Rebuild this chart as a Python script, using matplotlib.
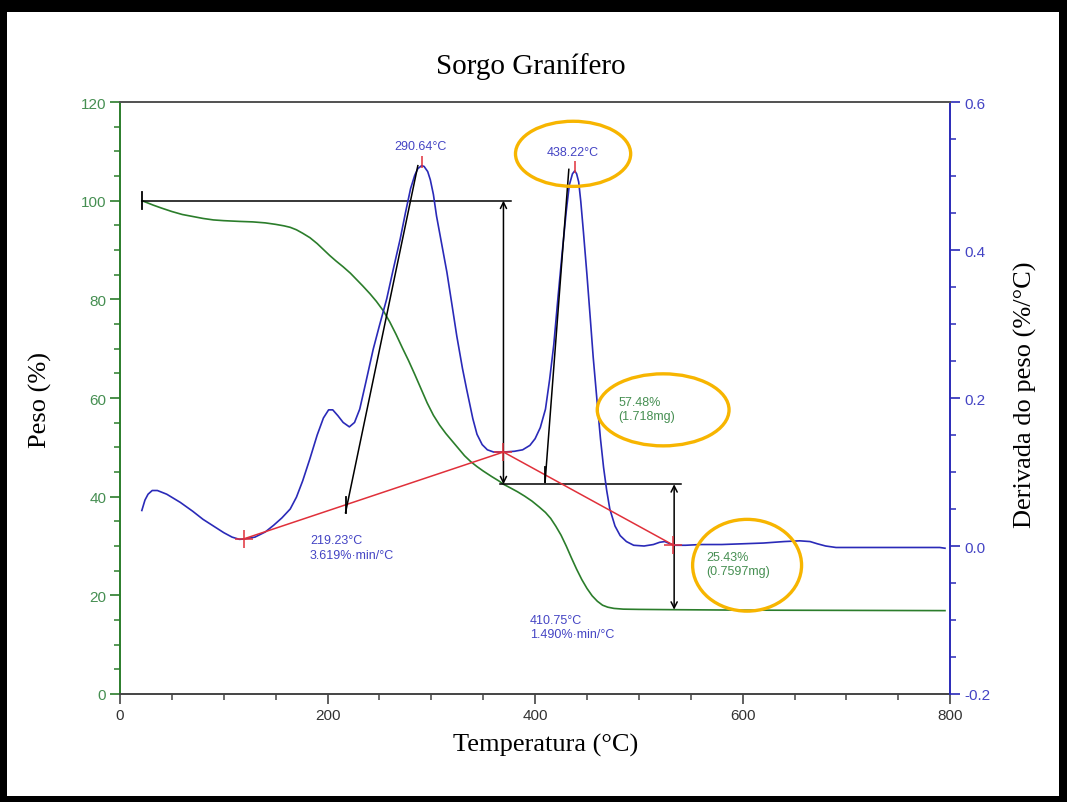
import numpy as np
import matplotlib
matplotlib.use("Agg")
import matplotlib.pyplot as plt
from matplotlib.patches import Ellipse, Rectangle
from matplotlib.ticker import MultipleLocator, FormatStrFormatter

# ---- TGA data: sorghum grain, weight (%) vs temperature (°C) ----
temp_tg = [21, 26, 32, 40, 50, 60, 70, 80, 90, 100, 115, 128, 140, 150, 158, 164,
           170, 176, 183, 190, 196, 202, 208, 215, 222, 228, 234, 241, 247, 254,
           260, 266, 272, 278, 284, 290, 296, 302, 308, 314, 320, 326, 332, 338,
           344, 350, 358, 365, 369.5, 376, 383, 390, 397, 404, 410, 415, 420, 425,
           430, 435, 440, 445, 450, 455, 460, 465, 470, 476, 485, 500, 534, 600,
           700, 795]
peso = [100.0, 99.6, 99.1, 98.5, 97.8, 97.2, 96.8, 96.4, 96.1, 95.95, 95.8, 95.7,
        95.5, 95.2, 94.9, 94.6, 94.1, 93.4, 92.5, 91.3, 90.1, 88.9, 87.8, 86.6,
        85.3, 84.0, 82.7, 81.1, 79.6, 77.6, 75.4, 72.9, 70.2, 67.6, 64.8, 61.9,
        59.0, 56.5, 54.5, 52.8, 51.3, 49.8, 48.3, 47.1, 46.1, 45.2, 44.1, 43.2,
        42.52, 41.8, 41.0, 40.1, 39.1, 37.9, 36.8, 35.6, 34.0, 32.2, 30.0, 27.6,
        25.3, 23.2, 21.4, 19.9, 18.8, 18.0, 17.6, 17.35, 17.2, 17.15, 17.09, 17.0,
        16.95, 16.9]

# ---- DTG data: derivative of weight (%/°C) ----
temp_dtg = [21, 24, 27, 31, 36, 45, 58, 70, 80, 90, 100, 108, 115, 120, 130, 140,
            148, 156, 164, 170, 176, 183, 190, 196, 201, 205, 210, 215, 221, 226,
            231, 237, 244, 250, 257, 263, 270, 275, 280, 284, 287, 290.64, 293,
            296.5, 299, 302, 305, 310, 315, 320, 324.5, 330, 334, 340, 344, 349, 354,
            360, 369.5, 380, 388, 395, 400, 405, 410, 414, 418, 422, 426, 430, 433,
            436, 438.22, 440, 442, 444, 446.6, 450, 453, 456, 459.5, 463, 466, 469,
            472, 477, 482, 488, 495, 505, 514, 520, 525, 530, 535, 545, 560, 580,
            600, 620, 640, 655, 665, 672, 680, 690, 720, 760, 790, 795]
dtg = [0.048, 0.062, 0.070, 0.075, 0.075, 0.070, 0.059, 0.047, 0.036, 0.027,
       0.018, 0.012, 0.009, 0.0095, 0.012, 0.019, 0.028, 0.038, 0.050, 0.066,
       0.088, 0.118, 0.150, 0.173, 0.184, 0.184, 0.176, 0.167, 0.161, 0.167,
       0.185, 0.222, 0.266, 0.298, 0.334, 0.372, 0.415, 0.450, 0.483, 0.501,
       0.510, 0.514, 0.513, 0.506, 0.495, 0.475, 0.446, 0.408, 0.370, 0.325,
       0.284, 0.240, 0.212, 0.172, 0.151, 0.137, 0.130, 0.127, 0.127, 0.128,
       0.130, 0.136, 0.145, 0.160, 0.185, 0.225, 0.272, 0.335, 0.395, 0.452,
       0.488, 0.503, 0.507, 0.503, 0.492, 0.466, 0.424, 0.366, 0.311, 0.255,
       0.199, 0.145, 0.106, 0.075, 0.050, 0.027, 0.014, 0.006, 0.001, 0.000,
       0.002, 0.005, 0.006, 0.003, 0.001, 0.001, 0.002, 0.002, 0.003, 0.004,
       0.006, 0.007, 0.006, 0.003, 0.000, -0.002, -0.002, -0.002, -0.002, -0.003]

# ---- analysis results ----
peak_temps = [290.64, 438.22]
onset_temps = [219.23, 410.75]
onset_rates = ["3.619", "1.490"]
mass_losses = [57.48, 25.43]
mass_mg = ["1.718", "0.7597"]
step_temps = [369.5, 534.0]

# DTG baseline used for onset evaluation
base_T = [119.0, 369.5, 533.0]
base_D = [0.0095, 0.127, 0.0014]
# leading-edge tangents of each DTG peak
tan_T = [[217.3, 287.0], [409.6, 432.5]]
tan_D = [[0.045, 0.514], [0.086, 0.509]]

C_GREEN = "#2b7d2b"
C_BLUE = "#2a2ab8"
C_GREEN_TXT = "#468f52"
C_BLUE_TXT = "#4444c4"
C_RED = "#e0303a"
C_ORANGE = "#f7b500"

SANS = "Liberation Sans"
SERIF = "Liberation Serif"

fig = plt.figure(figsize=(10.67, 8.03), dpi=100)
fig.patch.set_facecolor("black")
fig.patches.append(Rectangle((7 / 1067, 6 / 803), (1059 - 7) / 1067, (790 - 6) / 803,
                             transform=fig.transFigure, facecolor="white",
                             edgecolor="none", zorder=-10))

ax = fig.add_axes([0.1125, 0.1345, 0.778, 0.7372])
ax2 = ax.twinx()
ax.set_facecolor("white")
ax2.patch.set_visible(False)

ax.set_xlim(0, 800)
ax.set_ylim(0, 120)
ax2.set_ylim(-0.2, 0.6)

# weight curve
ax.plot(temp_tg, peso, color=C_GREEN, lw=1.2, zorder=3)
# derivative curve
ax2.plot(temp_dtg, dtg, color=C_BLUE, lw=1.2, zorder=3)

# weight-loss steps
w0 = peso[0]
w1 = w0 - mass_losses[0]
w2 = w1 - mass_losses[1]
ax.plot([temp_tg[0], 377], [w0, w0], color="black", lw=1.1, zorder=4)
ax.plot([temp_tg[0], temp_tg[0]], [w0 - 1.7, w0 + 1.7], color="black", lw=1.3, zorder=4)
ax.plot([step_temps[0] - 3.5, step_temps[1] + 7], [w1, w1], color="black", lw=1.1, zorder=4)
arrow_kw = dict(arrowstyle="<->", color="black", lw=1.1, mutation_scale=11,
                shrinkA=0, shrinkB=0)
ax.annotate("", xy=(step_temps[0], w1), xytext=(step_temps[0], w0), arrowprops=arrow_kw, zorder=4)
ax.annotate("", xy=(step_temps[1], w2), xytext=(step_temps[1], w1), arrowprops=arrow_kw, zorder=4)

# baseline and tangents on the derivative axis
ax2.plot(base_T, base_D, color=C_RED, lw=1.1, zorder=4)
ax2.plot(base_T, base_D, ls="none", marker="+", ms=13, mew=1.1, color=C_RED, zorder=5)
for tt, dd in zip(tan_T, tan_D):
    ax2.plot(tt, dd, color="black", lw=1.1, zorder=4)
    ax2.plot([tt[0], tt[0]], [dd[0], dd[0] + 0.021], color="black", lw=1.3, zorder=4)

# peak markers and labels
for pt in peak_temps:
    i = temp_dtg.index(pt)
    ax2.plot([pt], [dtg[i] + 0.005], marker="|", ms=9, mew=1.1, color=C_RED, zorder=5)
    ax2.text(pt - 1.5, dtg[i] + 0.026, f"{pt:.2f}°C", color=C_BLUE_TXT, fontsize=9,
             family=SANS, ha="center", va="center", zorder=6)

# onset labels
onset_pos = [(183, -0.002), (395, -0.109)]
for (tx, ty), ot, rate in zip(onset_pos, onset_temps, onset_rates):
    ax2.text(tx, ty, f"{ot:.2f}°C\n{rate}%·min/°C", color=C_BLUE_TXT, fontsize=9,
             family=SANS, ha="left", va="center", linespacing=1.25, zorder=6)

# mass-loss labels
loss_pos = [(480, 57.8), (565, 26.4)]
for (tx, ty), ml, mg in zip(loss_pos, mass_losses, mass_mg):
    ax.text(tx, ty, f"{ml:.2f}%\n({mg}mg)", color=C_GREEN_TXT, fontsize=9,
            family=SANS, ha="left", va="center", linespacing=1.25, zorder=6)

# highlight rings
rings = [((436.6, 109.5), 111, 13.2), ((523.4, 57.6), 127, 14.6), ((604.3, 26.1), 105, 18.6)]
for (cx, cy), rw, rh in rings:
    ax2.add_patch(Ellipse((cx, cy), rw, rh, transform=ax.transData, fill=False,
                          edgecolor=C_ORANGE, lw=2.4, zorder=7, clip_on=False))

# axes styling
ax.spines["left"].set_color(C_GREEN)
ax.spines["bottom"].set_color("#444444")
ax.spines["top"].set_color("#555555")
ax2.spines["right"].set_color(C_BLUE)
ax2.spines["left"].set_visible(False)
ax2.spines["top"].set_color("#555555")
ax2.spines["bottom"].set_visible(False)
for s in ax.spines.values():
    s.set_linewidth(1.4)
ax2.spines["right"].set_linewidth(1.4)
ax2.spines["top"].set_linewidth(1.4)
ax.spines["right"].set_visible(False)

ax.xaxis.set_major_locator(MultipleLocator(200))
ax.xaxis.set_minor_locator(MultipleLocator(50))
ax.yaxis.set_major_locator(MultipleLocator(20))
ax.yaxis.set_minor_locator(MultipleLocator(5))
ax2.yaxis.set_major_locator(MultipleLocator(0.2))
ax2.yaxis.set_minor_locator(MultipleLocator(0.05))
ax2.yaxis.set_major_formatter(FormatStrFormatter("%.1f"))

ax.tick_params(axis="x", which="major", direction="out", length=7, width=1.2,
               color="#444444", labelcolor="#333333", labelsize=11, pad=3)
ax.tick_params(axis="x", which="minor", direction="out", length=4.5, width=1.1, color="#444444")
ax.tick_params(axis="y", which="major", direction="out", length=7, width=1.2,
               color=C_GREEN, labelcolor=C_GREEN_TXT, labelsize=11, pad=3)
ax.tick_params(axis="y", which="minor", direction="out", length=4.5, width=1.1, color=C_GREEN)
ax2.tick_params(axis="y", which="major", direction="out", length=7, width=1.2,
                color=C_BLUE, labelcolor=C_BLUE_TXT, labelsize=11, pad=3)
ax2.tick_params(axis="y", which="minor", direction="out", length=4.5, width=1.1, color=C_BLUE)
for lab in ax.get_xticklabels() + ax.get_yticklabels() + ax2.get_yticklabels():
    lab.set_family(SANS)

fig.text(0.4977, 0.9166, "Sorgo Granífero", family=SERIF, fontsize=21,
         ha="center", va="center")
fig.text(0.511, 0.0722, "Temperatura (°C)", family=SERIF, fontsize=19,
         ha="center", va="center")
fig.text(0.0375, 0.502, "Peso (%)", family=SERIF, fontsize=19, rotation=90,
         ha="center", va="center")
fig.text(0.9606, 0.508, "Derivada do peso (%/°C)", family=SERIF, fontsize=19,
         rotation=90, ha="center", va="center")

fig.savefig("out.png", dpi=100, facecolor=fig.get_facecolor())
